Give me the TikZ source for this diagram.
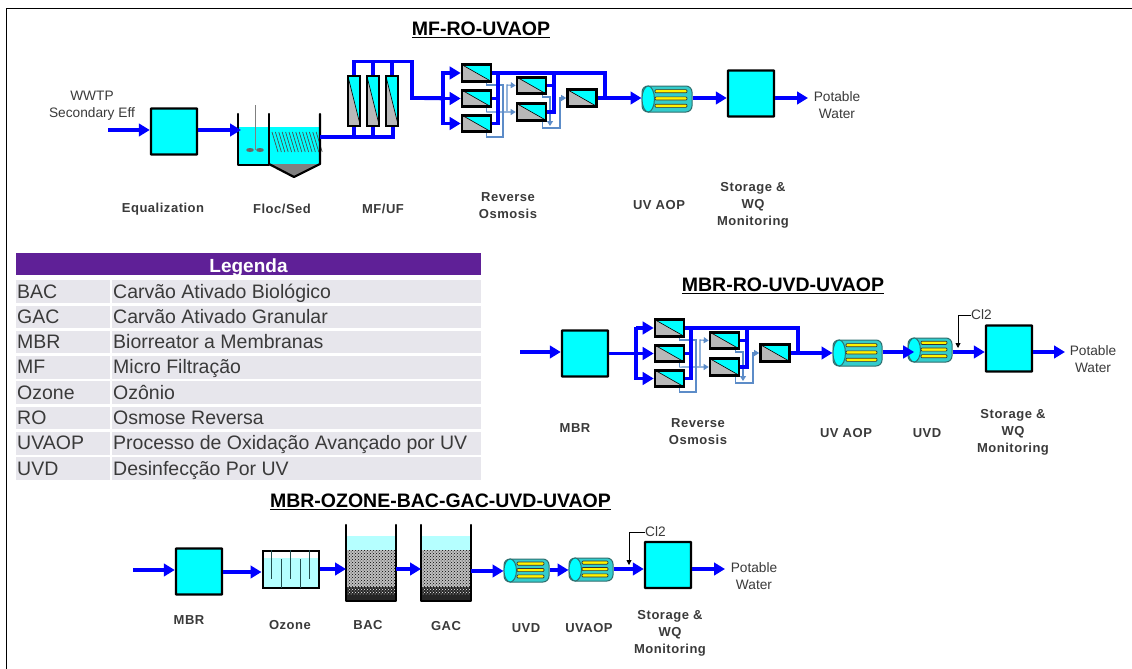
\documentclass[tikz,border=0pt]{standalone}
\usepackage{fontspec}
\setmainfont{Liberation Sans}
\newfontfamily\lblfont[LetterSpace=4]{Liberation Sans}
\usetikzlibrary{arrows.meta,patterns,calc,shapes.misc,shapes.geometric}
\definecolor{pipeblue}{HTML}{0000FF}
\definecolor{tankcyan}{HTML}{00FFFF}
\definecolor{lightcyan}{HTML}{B5FFFF}
\definecolor{modgray}{HTML}{B8B8B8}
\definecolor{conc}{HTML}{5C8CC8}
\definecolor{tubecyan}{HTML}{33CCCC}
\definecolor{tubeline}{HTML}{2F6F6F}
\definecolor{legpurple}{HTML}{5F2097}
\definecolor{legrow}{HTML}{E7E6EC}
\definecolor{textgray}{HTML}{3A3A3A}
\tikzset{
  pipe/.style={draw=pipeblue,line width=3.6pt,-{Triangle[length=11pt,width=12.5pt]}},
  pipeplain/.style={draw=pipeblue,line width=3.6pt,line join=miter},
  concline/.style={draw=conc,line width=1.1pt},
  concarrow/.style={concline,-{Triangle[length=5pt,width=6pt]}},
  tankbox/.style={draw=black,line width=2.4pt,fill=tankcyan,rectangle,inner sep=0pt,minimum width=46pt,minimum height=46pt,rounded corners=0.5pt},
  romod/.style={draw=black,line width=2.6pt,fill=tankcyan,rectangle,inner sep=0pt,minimum width=29pt,minimum height=16.5pt,
    path picture={\fill[modgray] (path picture bounding box.north west)--(path picture bounding box.south west)--(path picture bounding box.south east)--cycle;
      \draw[black,line width=0.6pt] (path picture bounding box.north west)--(path picture bounding box.south east);
      \draw[black,line width=2.6pt] (path picture bounding box.north west) rectangle (path picture bounding box.south east);}},
  mfmod/.style={draw=black,line width=2pt,fill=tankcyan,rectangle,inner sep=0pt,minimum width=12.5pt,minimum height=50pt,
    path picture={\fill[modgray] (path picture bounding box.north west)--(path picture bounding box.south west)--(path picture bounding box.south east)--cycle;
      \draw[black,line width=0.6pt] (path picture bounding box.north west)--(path picture bounding box.south east);
      \draw[black,line width=2pt] (path picture bounding box.north west) rectangle (path picture bounding box.south east);}},
  tubebody/.style={draw=tubeline,line width=1pt,fill=tubecyan,rectangle,rounded corners=6pt,inner sep=0pt},
  tubeend/.style={draw=tubeline,line width=1pt,fill=tankcyan,ellipse,inner sep=0pt},
  lamp/.style={draw=black!80,line width=0.7pt,fill=yellow,rounded corners=1pt},
  lbl/.style={font=\lblfont\fontsize{13}{17}\selectfont\bfseries,text=textgray,align=center,inner sep=0pt},
  txt/.style={font=\fontsize{13.7}{17}\selectfont,text=textgray,align=center,inner sep=0pt},
  ttl/.style={font=\fontsize{19.5}{22}\selectfont\bfseries,text=black,inner sep=0pt},
  legc/.style={fill=legrow,inner sep=0pt,minimum height=22.5pt,anchor=north west},
  legt/.style={font=\fontsize{19.5}{22}\selectfont,text=textgray,inner sep=0pt,anchor=base west},
  smallarrow/.style={draw=black,line width=0.9pt,-{Triangle[length=5pt,width=5pt]}},
  wall/.style={draw=black,line width=2.2pt}
}
% \uvtube{name}{x0}{y0}{x1}{y1}
\newcommand{\uvtube}[5]{%
  \pgfmathsetmacro{\tw}{#4-#2}\pgfmathsetmacro{\th}{#5-#3}%
  \pgfmathsetmacro{\tcx}{(#2+#4)/2}\pgfmathsetmacro{\tcy}{(#3+#5)/2}%
  \pgfmathsetmacro{\tex}{#2+6.2}%
  \node[tubebody,minimum width=\tw pt,minimum height=\th pt] (#1) at (\tcx,\tcy) {};
  \node[tubeend,minimum width=12.5pt,minimum height=\th pt] (#1e) at (\tex,\tcy) {};
  \foreach \ff in {0.2,0.48,0.76}{
    \draw[lamp] ({#2+13},{#3+(#5-#3)*\ff-1.6}) rectangle ({#4-5},{#3+(#5-#3)*\ff+1.6});
  }}
% \rosys{prefix}{dx}{dy}
\newcommand{\rosys}[3]{%
\begin{scope}[shift={(#2,#3)}]
  \node[romod] (#1a) at (476.5,73) {};
  \node[romod] (#1b) at (476.5,98.5) {};
  \node[romod] (#1c) at (476.5,123.5) {};
  \node[romod] (#1d) at (531.5,85.5) {};
  \node[romod] (#1e) at (531.5,112) {};
  \node[romod] (#1f) at (582,98) {};
  % concentrate
  \coordinate (#1u) at (503,85);
  \draw[concline] ($(#1a.south east)+(-6,0)$) |- (#1u) -- (503,137) -| ($(#1c.south east)+(-6,0)$);
  \draw[concline] ($(#1b.south east)+(-6,0)$) -- ++(0,4);
  \draw[concarrow] ($(#1b.south east)+(-6,4)$) -- (#1e.west);
  \draw[concarrow] (507,111) -- (507,85) -- (#1d.west);
  \draw[concarrow] ($(#1d.south east)+(-5,0)$) |- (550,97) -- (550,126);
  \draw[concarrow] ($(#1e.south east)+(-5,0)$) |- (560,128) |- (#1f.west);
  % permeate
  \draw[pipeplain] (#1a.east) -- (605,73) -- (605,98.3);
  \draw[pipeplain] (#1b.east) -- (498,98.5);
  \draw[pipeplain] (#1c.east) -- (498,123.5) -- (498,73);
  \draw[pipeplain] (#1d.east) -- (554,85.5);
  \draw[pipeplain] (#1e.east) -- (554,112) -- (554,73);
  \draw[pipeplain] (#1f.east) -- (605,98);
  % feed
  \coordinate (#1n) at (443,98.5);
  \draw[pipe] (443,73) -- (#1a.west);
  \draw[pipe] (#1n) -- (#1b.west);
  \draw[pipe] (443,71.5) -- (443,123.5) -- (#1c.west);
\end{scope}}
\begin{document}
\begin{tikzpicture}[x=1pt,y=-1pt]
\useasboundingbox (0,0) rectangle (1132,669);
\fill[white] (0,0) rectangle (1132,669);
\draw[black,line width=1.8pt] (6.5,669) -- (6.5,8.5) -- (1132,8.5);

% Titles
\node[ttl] (t1) at (481,30) {\underline{MF-RO-UVAOP}};
\node[ttl] (t2) at (783,286) {\underline{MBR-RO-UVD-UVAOP}};
\node[ttl] (t3) at (440.5,502) {\underline{MBR-OZONE-BAC-GAC-UVD-UVAOP}};

% row levels
\coordinate (rowa) at (0,98);
\coordinate (rowb) at (0,352);
\coordinate (rowc) at (0,569);
\coordinate (rowd) at (0,571);
\coordinate (rowe) at (0,570);

% ---------- Row 1
\node[txt] (wwtp) at (92,105.5) {WWTP\\Secondary Eff};
\coordinate (in1) at (108,130);
\node[tankbox] (eq) at (174,131.5) {};
\draw[pipe] (in1) -- (in1 -| eq.west);
% floc/sed
\fill[tankcyan] (238,127) rectangle (320,164);
\fill[gray] (270,164) -- (294,177) -- (320,164) -- cycle;
\draw[black!70,line width=0.7pt] foreach \i in {0,...,13} {(272+3.4*\i,132) -- (272+3.4*\i+6,152)};
\draw[gray,line width=0.8pt] (255,105) -- (255,150);
\fill[gray!80!black] (250,150) ellipse (3.8pt and 2pt) (260,150) ellipse (3.8pt and 2pt);
\draw[wall,line cap=round,line join=round] (238,114) -- (238,165) -- (269,165) -- (269,114);
\draw[wall,line cap=round,line join=round] (269,164) -- (294,177) -- (320,164) -- (320,114);
\coordinate (flocin) at (241,130);
\coordinate (sedout) at (320,137);
\draw[pipe] (eq.east |- flocin) -- (flocin);
% MF
\draw[pipeplain] (sedout) -- (393,137) -- (393,120);
\draw[pipeplain] (354,137) -- (354,120);
\draw[pipeplain] (373,137) -- (373,120);
\node[mfmod] (m1) at (354,100.5) {};
\node[mfmod] (m2) at (373,100.5) {};
\node[mfmod] (m3) at (392,100.5) {};
\draw[pipeplain] (m1.north) -- (354,61.5) -- (412,61.5) -- (412,98) -- (443,98);
\draw[pipeplain] (m2.north) -- (373,61.5);
\draw[pipeplain] (m3.north) -- (392,61.5);
\rosys{A}{0}{0}
\draw[pipeplain] (412,98) -- (An);
\uvtube{uv1}{642}{86}{692}{112}
\draw[pipe] (605,98) -- (uv1.west |- rowa);
\node[tankbox] (st1) at (751,93.5) {};
\draw[pipe] (uv1.east |- rowa) -- (st1.west |- rowa);
\coordinate (out1) at (808,98);
\draw[pipe] (st1.east |- out1) -- (out1);
\node[txt] (pw1) at (837,105.5) {Potable\\Water};
\node[lbl] (l1) at (163,209) {Equalization};
\node[lbl] (l2) at (282,209) {Floc/Sed};
\node[lbl] (l3) at (383,209) {MF/UF};
\node[lbl] (l4) at (508,205.5) {Reverse\\Osmosis};
\node[lbl] (l5) at (659,205) {UV AOP};
\node[lbl] (l6) at (753,205.5) {Storage \&\\WQ\\Monitoring};

% ---------- Legend
\fill[legpurple] (16,253) rectangle (481,275);
\node[font=\fontsize{19}{21}\selectfont\bfseries,text=white,inner sep=0pt] (legh) at (248.5,267.5) {Legenda};
\foreach \k/\a [count=\r from 0] in {BAC/Carvão Ativado Biológico,GAC/Carvão Ativado Granular,MBR/Biorreator a Membranas,MF/Micro Filtração,Ozone/Ozônio,RO/Osmose Reversa,UVAOP/Processo de Oxidação Avançado por UV,UVD/Desinfecção Por UV}{
  \pgfmathsetmacro{\yy}{280+25.3*\r}
  \pgfmathsetmacro{\yt}{\yy+18}
  \node[legc,minimum width=94pt] (lk\r) at (16,\yy) {};
  \node[legc,minimum width=369pt] (lv\r) at (112,\yy) {};
  \node[legt] at (17,\yt) {\k};
  \node[legt] at (113,\yt) {\a};
}

% ---------- Row 2
\coordinate (in2) at (520,352);
\node[tankbox] (mbr2) at (585,353.5) {};
\draw[pipe] (in2) -- (in2 -| mbr2.west);
\rosys{B}{193}{255}
\draw[pipeplain] (mbr2.east |- Bn) -- (Bn);
\uvtube{uv2}{833}{340}{882}{366}
\uvtube{uv3}{908}{338}{952}{362}
\draw[pipe] (798,353) -- (uv2.west |- 0,353);
\draw[pipe] (uv2.east |- rowb) -- (uv3e |- rowb);
\node[tankbox] (st2) at (1009,348.5) {};
\draw[pipe] (uv3.east |- rowb) -- (st2.west |- rowb);
\coordinate (out2) at (1065,352);
\draw[pipe] (st2.east |- out2) -- (out2);
\node[txt] (pw2) at (1093,359.5) {Potable\\Water};
\node[txt,anchor=west] (cl1) at (971,315) {Cl2};
\draw[smallarrow] (cl1.west) -- (958,315) -- (958,348);
\node[lbl] at (575,428) {MBR};
\node[lbl] at (698,432) {Reverse\\Osmosis};
\node[lbl] at (846,433) {UV AOP};
\node[lbl] at (927,433) {UVD};
\node[lbl] at (1013,432) {Storage \&\\WQ\\Monitoring};

% ---------- Row 3
\coordinate (in3) at (133,570);
\node[tankbox] (mbr3) at (199,571.5) {};
\draw[pipe] (in3) -- (in3 -| mbr3.west);
% ozone
\node[draw=black,line width=2pt,rectangle,inner sep=0pt,minimum width=56pt,minimum height=37pt,fill=white,
  path picture={\fill[lightcyan] (-30,-11) rectangle (30,21);
    \draw[black,line width=2pt] (path picture bounding box.north west) rectangle (path picture bounding box.south east);}] (oz) at (290.5,569) {};
\draw[tubeline!70!black,line width=1pt] (271,550) -- (271,579) (281,559) -- (281,588) (290,550) -- (290,579) (300,559) -- (300,588) (309,550) -- (309,579);
\draw[pipe] (mbr3.east |- 0,572) -- (oz.west |- 0,572);
% BAC / GAC
\foreach \xa/\nm in {346/bac,421/gac}{
  \fill[lightcyan] (\xa,536) rectangle (\xa+50,550);
  \fill[black!25] (\xa,550) rectangle (\xa+50,587);
  \fill[pattern=crosshatch dots,pattern color=black] (\xa,550) rectangle (\xa+50,587);
  \fill[black!85] (\xa,587) rectangle (\xa+50,601);
  \fill[pattern=crosshatch dots,pattern color=white] (\xa,587) rectangle (\xa+50,594);
  \draw[wall,line cap=round,line join=round] (\xa,525) -- (\xa,601) -- (\xa+50,601) -- (\xa+50,525);
  \coordinate (\nm w) at (\xa,569);
  \coordinate (\nm e) at (\xa+50,569);
}
\draw[pipe] (oz.east |- bacw) -- (bacw);
\draw[pipe] (bace) -- (gacw);
\uvtube{uv4}{504}{559}{549}{582}
\uvtube{uv5}{569}{558}{613}{581}
\draw[pipe] (gace |- rowd) -- (uv4.west |- rowd);
\draw[pipe] (uv4.east |- rowe) -- (uv5.west |- rowe);
\node[tankbox] (st3) at (668,565) {};
\draw[pipe] (uv5.east |- rowc) -- (st3.west |- rowc);
\coordinate (out3) at (725,569);
\draw[pipe] (st3.east |- out3) -- (out3);
\node[txt] (pw3) at (754,576) {Potable\\Water};
\node[txt,anchor=west] (cl3) at (645,532) {Cl2};
\draw[smallarrow] (cl3.west) -- (629,532) -- (629,565);
\node[lbl] at (189,620) {MBR};
\node[lbl] at (290,625) {Ozone};
\node[lbl] at (368,625) {BAC};
\node[lbl] at (446,626) {GAC};
\node[lbl] at (526,628) {UVD};
\node[lbl] at (589,628) {UVAOP};
\node[lbl] at (670,633) {Storage \&\\WQ\\Monitoring};
\end{tikzpicture}
\end{document}
